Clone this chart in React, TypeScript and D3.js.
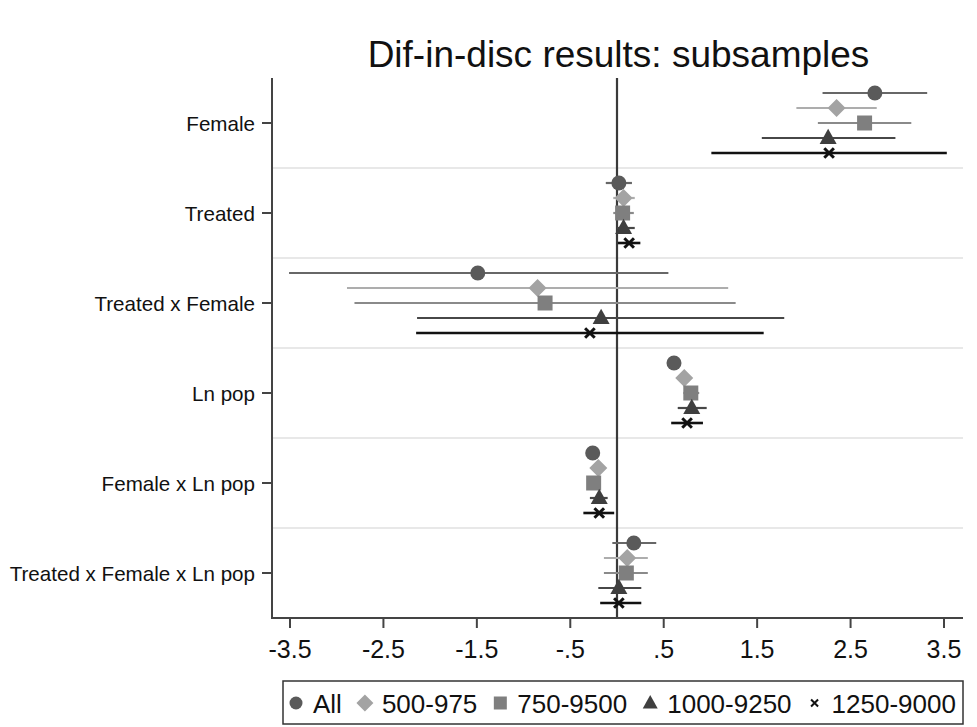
import React, { useEffect, useRef } from "react";
import * as d3 from "d3";

const categories = [
  "Female",
  "Treated",
  "Treated x Female",
  "Ln pop",
  "Female x Ln pop",
  "Treated x Female x Ln pop",
];
const seriesNames = ["All", "500-975", "750-9500", "1000-9250", "1250-9000"];
const xTicks = [-3.5, -2.5, -1.5, -0.5, 0.5, 1.5, 2.5, 3.5];
const xTickLabels = ["-3.5", "-2.5", "-1.5", "-.5", ".5", "1.5", "2.5", "3.5"];

// point estimates per series (order follows categories)
const estAll = [2.76, 0.02, -1.49, 0.61, -0.26, 0.18];
const est500 = [2.35, 0.07, -0.85, 0.72, -0.2, 0.11];
const est750 = [2.65, 0.06, -0.77, 0.79, -0.25, 0.1];
const est1000 = [2.26, 0.07, -0.17, 0.8, -0.19, 0.02];
const est1250 = [2.27, 0.13, -0.29, 0.75, -0.19, 0.02];

// lower CI bounds
const loAll = [2.2, -0.12, -3.51, 0.56, -0.31, -0.05];
const lo500 = [1.92, -0.04, -2.89, 0.65, -0.25, -0.14];
const lo750 = [2.15, -0.04, -2.81, 0.71, -0.3, -0.14];
const lo1000 = [1.55, 0.0, -2.14, 0.65, -0.29, -0.2];
const lo1250 = [1.01, 0.01, -2.15, 0.58, -0.36, -0.18];

// upper CI bounds
const hiAll = [3.32, 0.16, 0.55, 0.66, -0.21, 0.42];
const hi500 = [2.78, 0.19, 1.19, 0.79, -0.15, 0.33];
const hi750 = [3.15, 0.18, 1.27, 0.88, -0.2, 0.33];
const hi1000 = [2.98, 0.19, 1.79, 0.96, -0.1, 0.26];
const hi1250 = [3.53, 0.25, 1.57, 0.92, -0.03, 0.26];

const estimates = [estAll, est500, est750, est1000, est1250];
const lowers = [loAll, lo500, lo750, lo1000, lo1250];
const uppers = [hiAll, hi500, hi750, hi1000, hi1250];

const markerFill = ["#5a5a5a", "#a3a3a3", "#7f7f7f", "#3f3f3f", "#111111"];
const lineColor = ["#676767", "#adadad", "#8a8a8a", "#474747", "#111111"];
const shapes = ["circle", "diamond", "square", "triangle", "x"];

function markerPath(shape: string, s: number): string {
  if (shape === "circle") return d3.symbol(d3.symbolCircle, Math.PI * s * s)()!;
  if (shape === "square") return d3.symbol(d3.symbolSquare, 4 * s * s)()!;
  if (shape === "diamond") {
    return `M0,${-s}L${s},0L0,${s}L${-s},0Z`;
  }
  if (shape === "triangle") {
    const h = s * 1.8;
    return `M0,${-h * 0.6}L${s},${h * 0.4}L${-s},${h * 0.4}Z`;
  }
  return `M${-s},${-s}L${s},${s}M${-s},${s}L${s},${-s}`;
}

const FONT = "'Liberation Sans', Arial, sans-serif";

export default function App() {
  const ref = useRef<SVGSVGElement>(null);

  useEffect(() => {
    const svg = d3.select(ref.current);
    svg.selectAll("*").remove();
    const W = 977;
    const H = 727;
    const plotL = 272;
    const plotR = 963;
    const plotT = 78;
    const plotB = 618;

    const x = d3.scaleLinear().domain([-3.5, 3.5]).range([290, 944]);
    const y = d3.scaleBand<string>().domain(categories).range([plotT, plotB]);
    const offsets = d3.scaleLinear().domain([0, 4]).range([-30, 30]);

    svg.append("rect").attr("width", W).attr("height", H).attr("fill", "#fff");

    // title
    svg
      .append("text")
      .attr("x", (plotL + plotR) / 2 + 1)
      .attr("y", 67)
      .attr("text-anchor", "middle")
      .attr("font-family", FONT)
      .attr("font-size", 37)
      .attr("fill", "#111")
      .text("Dif-in-disc results: subsamples");

    // gridlines between groups
    const g = svg.append("g");
    categories.slice(1).forEach((c) => {
      const yy = y(c)!;
      g.append("line")
        .attr("x1", plotL)
        .attr("x2", plotR)
        .attr("y1", yy)
        .attr("y2", yy)
        .attr("stroke", "#e8e8e8")
        .attr("stroke-width", 2);
    });

    // zero line
    g.append("line")
      .attr("x1", x(0))
      .attr("x2", x(0))
      .attr("y1", plotT)
      .attr("y2", plotB)
      .attr("stroke", "#3a3a3a")
      .attr("stroke-width", 2.2);

    // CIs and markers
    seriesNames.forEach((_, si) => {
      categories.forEach((c, ci) => {
        const yy = y(c)! + y.bandwidth() / 2 + offsets(si);
        g.append("line")
          .attr("x1", x(lowers[si][ci]))
          .attr("x2", x(uppers[si][ci]))
          .attr("y1", yy)
          .attr("y2", yy)
          .attr("stroke", lineColor[si])
          .attr("stroke-width", si === 4 ? 2.6 : 2.2);
      });
    });
    seriesNames.forEach((_, si) => {
      categories.forEach((c, ci) => {
        const yy = y(c)! + y.bandwidth() / 2 + offsets(si);
        const shape = shapes[si];
        const s = shape === "circle" ? 7.5 : shape === "diamond" ? 9 : shape === "square" ? 7.5 : shape === "triangle" ? 8.5 : 4.8;
        const p = g
          .append("path")
          .attr("d", markerPath(shape, s))
          .attr("transform", `translate(${x(estimates[si][ci])},${yy})`);
        if (shape === "x") {
          p.attr("fill", "none").attr("stroke", markerFill[si]).attr("stroke-width", 3);
        } else {
          p.attr("fill", markerFill[si]);
        }
      });
    });

    // axes lines
    svg
      .append("line")
      .attr("x1", plotL)
      .attr("x2", plotL)
      .attr("y1", plotT)
      .attr("y2", plotB + 1)
      .attr("stroke", "#444")
      .attr("stroke-width", 2);
    svg
      .append("line")
      .attr("x1", plotL - 1)
      .attr("x2", plotR)
      .attr("y1", plotB)
      .attr("y2", plotB)
      .attr("stroke", "#444")
      .attr("stroke-width", 2);

    // y ticks and labels
    categories.forEach((c) => {
      const yy = y(c)! + y.bandwidth() / 2;
      svg
        .append("line")
        .attr("x1", plotL - 10)
        .attr("x2", plotL)
        .attr("y1", yy)
        .attr("y2", yy)
        .attr("stroke", "#444")
        .attr("stroke-width", 2);
      svg
        .append("text")
        .attr("x", plotL - 17)
        .attr("y", yy + 8)
        .attr("text-anchor", "end")
        .attr("font-family", FONT)
        .attr("font-size", 20.6)
        .attr("fill", "#111")
        .text(c);
    });

    // x ticks and labels
    xTicks.forEach((t, i) => {
      svg
        .append("line")
        .attr("x1", x(t))
        .attr("x2", x(t))
        .attr("y1", plotB)
        .attr("y2", plotB + 10)
        .attr("stroke", "#444")
        .attr("stroke-width", 2);
      svg
        .append("text")
        .attr("x", x(t))
        .attr("y", 658)
        .attr("text-anchor", "middle")
        .attr("font-family", FONT)
        .attr("font-size", 25)
        .attr("fill", "#111")
        .text(xTickLabels[i]);
    });

    // legend
    const leg = svg.append("g");
    leg
      .append("rect")
      .attr("x", 283)
      .attr("y", 681)
      .attr("width", 963 - 283)
      .attr("height", 43)
      .attr("fill", "#fff")
      .attr("stroke", "#333")
      .attr("stroke-width", 1.5);
    let cx = 296;
    const ly = 703;
    seriesNames.forEach((name, si) => {
      const shape = shapes[si];
      const s = shape === "circle" ? 6.5 : shape === "diamond" ? 8.5 : shape === "square" ? 6.5 : shape === "triangle" ? 7.5 : 3.5;
      const p = leg
        .append("path")
        .attr("d", markerPath(shape, s))
        .attr("transform", `translate(${cx},${ly})`);
      if (shape === "x") {
        p.attr("fill", "none").attr("stroke", markerFill[si]).attr("stroke-width", 2);
      } else {
        p.attr("fill", markerFill[si]);
      }
      const t = leg
        .append("text")
        .attr("x", cx + 17)
        .attr("y", ly + 9.5)
        .attr("font-family", FONT)
        .attr("font-size", 26)
        .attr("fill", "#111")
        .text(name);
      const w = (t.node() as SVGTextElement).getComputedTextLength();
      cx = cx + 17 + w + 23;
    });
  }, []);

  return (
    <svg
      ref={ref}
      width={977}
      height={727}
      style={{ position: "absolute", left: 0, top: 0 }}
    />
  );
}
